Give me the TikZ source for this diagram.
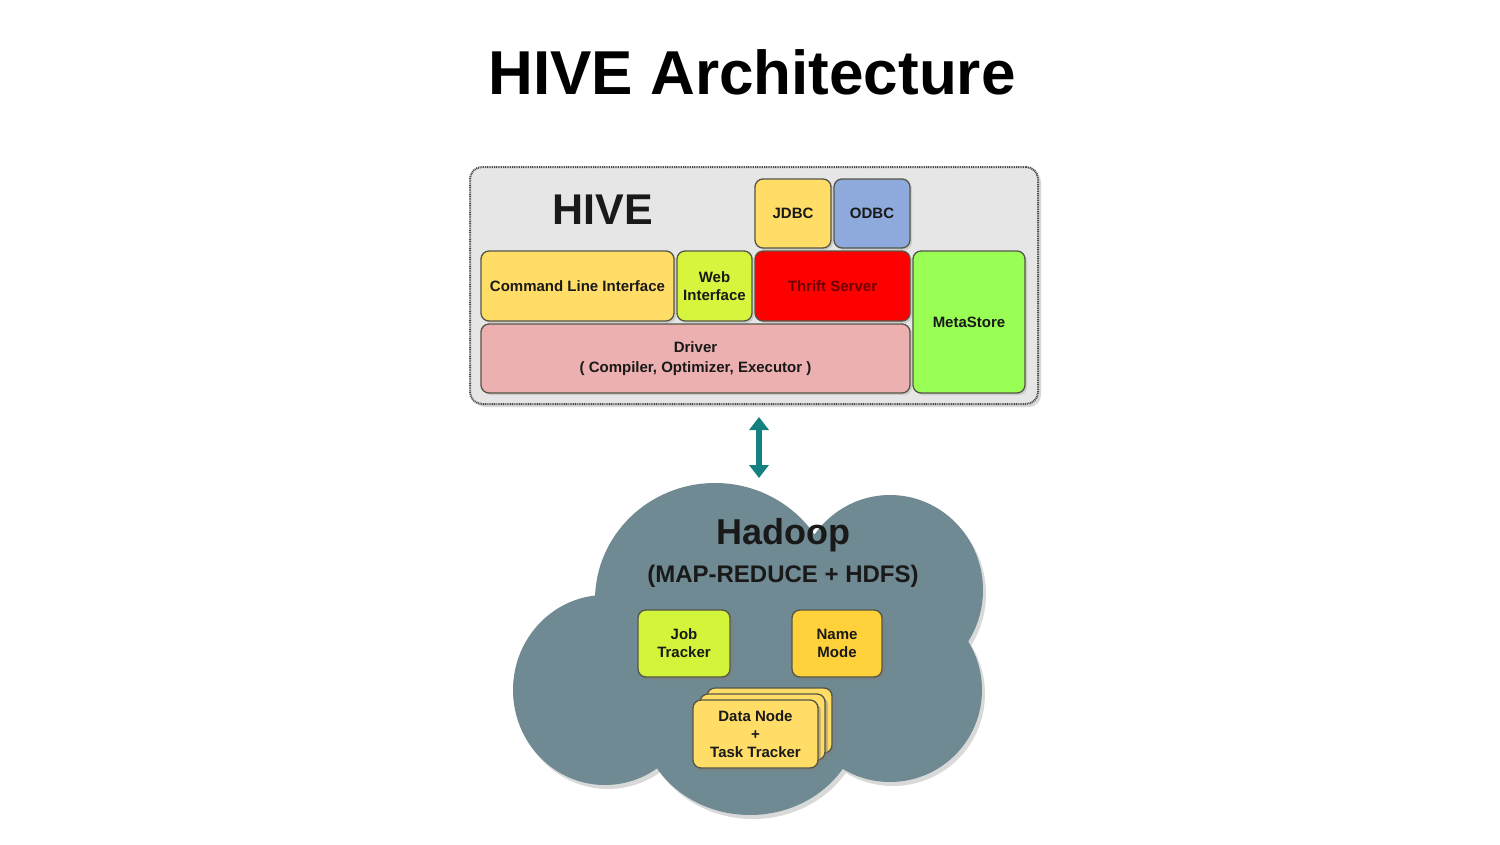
\documentclass[tikz,border=0pt]{standalone}
\usepackage{fontspec}
\setmainfont{Liberation Sans}
\usetikzlibrary{shadows,arrows.meta}
\definecolor{outerfill}{RGB}{230,230,230}
\definecolor{yel}{RGB}{255,221,102}
\definecolor{blu}{RGB}{142,170,220}
\definecolor{lime}{RGB}{214,245,60}
\definecolor{thr}{RGB}{255,0,0}
\definecolor{thrtext}{RGB}{110,0,0}
\definecolor{meta}{RGB}{153,255,85}
\definecolor{drv}{RGB}{236,176,176}
\definecolor{edge}{RGB}{85,85,70}
\definecolor{cloud}{RGB}{111,138,146}
\definecolor{arr}{RGB}{20,128,128}
\definecolor{jobc}{RGB}{210,245,60}
\definecolor{namec}{RGB}{255,210,60}
\definecolor{txt}{RGB}{25,25,25}
\tikzset{
  box/.style={draw=edge, line width=1.3pt, rounded corners=8pt, align=center,
    inner sep=0pt, text=txt, font=\fontsize{15}{18}\selectfont\bfseries,
    drop shadow={opacity=0.25, shadow xshift=2pt, shadow yshift=-2pt}},
  hbox/.style={box, drop shadow={opacity=0.35, shadow xshift=3pt, shadow yshift=-3pt}},
  cloudpart/.style={fill=cloud, draw=none},
}
\newcommand{\cloudshape}{%
  \fill (715,600) ellipse [x radius=120, y radius=117];
  \fill (605,690) ellipse [x radius=92, y radius=95];
  \fill (750,715) ellipse [x radius=110, y radius=100];
  \fill (890,590) ellipse [x radius=93, y radius=95];
  \fill (890,690) circle [radius=92];
  \fill (610,600) rectangle (890,740);
}
\begin{document}
\begin{tikzpicture}[x=1pt,y=-1pt]
\useasboundingbox (0,0) rectangle (1500,844);
\fill[white] (0,0) rectangle (1500,844);

% title
\node[font=\fontsize{62}{70}\selectfont\bfseries, anchor=base] (title) at (752,94) {HIVE Architecture};

% outer HIVE box
\node[draw=black!70, line width=2pt, dash pattern=on 1pt off 0.8pt, rounded corners=12pt,
  fill=outerfill, minimum width=568pt, minimum height=237pt, inner sep=0pt,
  drop shadow={opacity=0.3, shadow xshift=3pt, shadow yshift=-3pt}] (hive) at (754,285.5) {};
\node[font=\fontsize{43}{50}\selectfont\bfseries, text=txt] (hivelbl) at (603,210) {HIVE};

\node[box, fill=yel, minimum width=76pt, minimum height=69pt] (jdbc) at (793,213.5) {JDBC};
\node[box, fill=blu, minimum width=76pt, minimum height=69pt] (odbc) at (872,213.5) {ODBC};
\node[box, fill=yel, minimum width=193pt, minimum height=70pt] (cli) at (577.5,286) {Command Line Interface};
\node[box, fill=lime, minimum width=75pt, minimum height=70pt] (web) at (714.5,286) {Web\\Interface};
\node[box, fill=thr, text=thrtext, minimum width=155pt, minimum height=70pt] (thrift) at (832.5,286) {Thrift Server};
\node[box, fill=meta, minimum width=112pt, minimum height=142pt] (meta) at (969,322) {MetaStore};
\node[box, fill=drv, minimum width=429pt, minimum height=69pt] (driver) at (695.5,358.5) {Driver\\[2pt]( Compiler, Optimizer, Executor )};

% arrow
\coordinate (atop) at (759,417);
\coordinate (abot) at (759,478);
\draw[line width=6.5pt, draw=arr, {Triangle[width=19pt,length=13pt]}-{Triangle[width=19pt,length=13pt]}] (atop) -- (abot);

% cloud shadow
\begin{scope}[shift={(3,4)}, fill=black!15]
  \cloudshape
\end{scope}
% cloud
\begin{scope}[fill=cloud]
  \cloudshape
\end{scope}

\node[font=\fontsize{36}{40}\selectfont\bfseries, text=txt] (hadoop) at (783,535) {Hadoop};
\node[font=\fontsize{24}{28}\selectfont\bfseries, text=txt] (mr) at (783,576) {(MAP-REDUCE + HDFS)};

\node[hbox, fill=jobc, minimum width=92pt, minimum height=67pt] (job) at (684,643.5) {Job\\Tracker};
\node[hbox, fill=namec, minimum width=90pt, minimum height=67pt] (name) at (837,643.5) {Name\\Mode};

\node[hbox, fill=yel, minimum width=125pt, minimum height=65pt] (dn3) at (769.5,720.5) {};
\node[hbox, fill=yel, minimum width=125pt, minimum height=66pt] (dn2) at (762.5,727) {};
\node[hbox, fill=yel, minimum width=125pt, minimum height=68pt] (dn1) at (755.5,734) {Data Node\\+\\Task Tracker};
\end{tikzpicture}
\end{document}
